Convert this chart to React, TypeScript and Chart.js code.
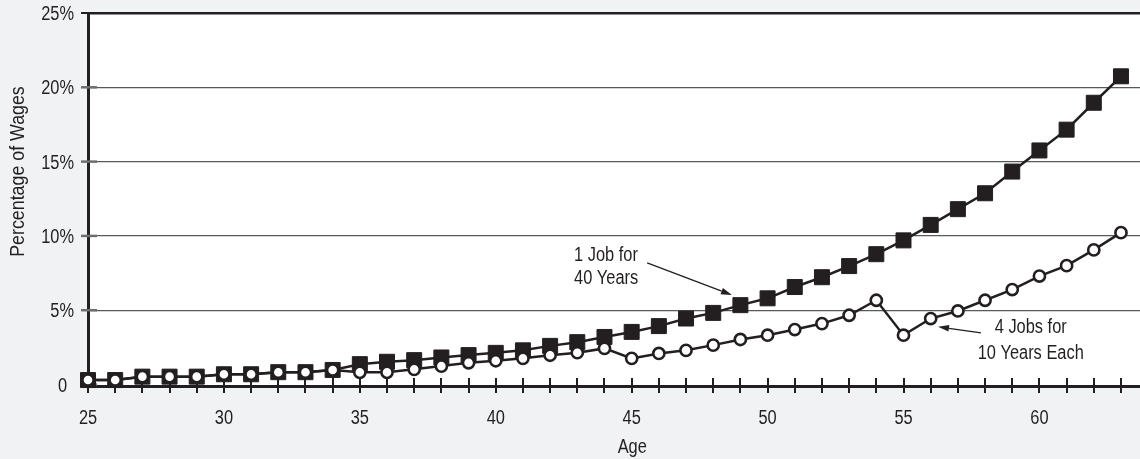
import React, { useEffect, useRef } from 'react';
import { Chart, registerables } from 'chart.js';

Chart.register(...registerables);

// ---- data ----
const ages = [25, 26, 27, 28, 29, 30, 31, 32, 33, 34, 35, 36, 37, 38, 39, 40, 41, 42, 43, 44, 45, 46, 47, 48, 49, 50, 51, 52, 53, 54, 55, 56, 57, 58, 59, 60, 61, 62, 63];
const oneJobFor40Years = [0.3, 0.3, 0.53, 0.53, 0.53, 0.69, 0.69, 0.83, 0.83, 0.98, 1.37, 1.53, 1.64, 1.82, 1.98, 2.13, 2.3, 2.6, 2.85, 3.2, 3.54, 3.93, 4.44, 4.82, 5.34, 5.8, 6.56, 7.22, 7.97, 8.77, 9.7, 10.74, 11.8, 12.87, 14.33, 15.75, 17.15, 18.96, 20.74];
const fourJobsFor10YearsEach = [0.3, 0.3, 0.53, 0.53, 0.53, 0.69, 0.69, 0.83, 0.83, 0.98, 0.82, 0.82, 1.02, 1.24, 1.46, 1.6, 1.76, 1.97, 2.14, 2.43, 1.76, 2.09, 2.3, 2.65, 3.03, 3.32, 3.7, 4.1, 4.66, 5.67, 3.32, 4.44, 4.95, 5.67, 6.39, 7.3, 8.0, 9.06, 10.22];
const yTicks = [0, 5, 10, 15, 20, 25];
const xLabelEvery = 5;
const xAxisTitle = 'Age';
const yAxisTitle = 'Percentage of Wages';

// annotation text (data coordinates of each line's baseline)
const noteLines = ['1 Job for', '40 Years', '4 Jobs for', '10 Years Each'];
const noteAt = [[42.88, 8.33], [42.88, 6.76], [59.68, 3.5], [59.68, 1.72]];
const noteAlign = ['left', 'left', 'center', 'center'];
const arrowFrom = [[45.57, 8.18], [57.85, 3.47]];
const arrowTo = [[48.69, 6.02], [56.27, 3.89]];

const FONT = "'Liberation Sans', Arial, sans-serif";
const SX = 0.82; // horizontal condensing of text
const INK = '#231f20';
const GRID = '#58595b';
const PAGE_BG = '#f1f2f4';

function drawText(ctx: CanvasRenderingContext2D, text: string, x: number, y: number, align: CanvasTextAlign, sx = SX) {
  ctx.save();
  ctx.translate(x, y);
  ctx.scale(sx, 1);
  ctx.textAlign = align;
  ctx.textBaseline = 'alphabetic';
  ctx.fillText(text, 0, 0);
  ctx.restore();
}

const decorPlugin = {
  id: 'decor',
  beforeDraw(chart: any) {
    const { ctx, chartArea: a, width, height } = chart;
    ctx.save();
    ctx.fillStyle = PAGE_BG;
    ctx.fillRect(0, 0, width, height);
    ctx.fillStyle = '#ffffff';
    ctx.fillRect(a.left, a.top, a.right - a.left, a.bottom - a.top);
    ctx.restore();
  },
  beforeDatasetsDraw(chart: any) {
    const { ctx, chartArea: a, scales } = chart;
    ctx.save();
    ctx.lineCap = 'butt';
    // x tick marks crossing the axis
    ctx.strokeStyle = INK;
    ctx.lineWidth = 2;
    for (const age of ages) {
      const px = Math.round(scales.x.getPixelForValue(age));
      ctx.beginPath();
      ctx.moveTo(px, a.bottom - 8);
      ctx.lineTo(px, a.bottom + 7);
      ctx.stroke();
    }
    // y tick marks
    for (const v of yTicks) {
      const py = scales.y.getPixelForValue(v);
      ctx.strokeStyle = v === 25 ? INK : '#6d6e70';
      ctx.lineWidth = v === 25 ? 2 : 2.5;
      ctx.beginPath();
      ctx.moveTo(a.left - 7, py);
      ctx.lineTo(v === 25 ? a.left : a.left + 9, py);
      ctx.stroke();
    }
    ctx.restore();
  },
  afterDraw(chart: any) {
    const { ctx, chartArea: a, scales } = chart;
    ctx.save();
    ctx.fillStyle = INK;
    ctx.font = `20px ${FONT}`;
    // tick labels
    for (const age of ages) {
      if (age % xLabelEvery !== 0) continue;
      drawText(ctx, String(age), scales.x.getPixelForValue(age), a.bottom + 37.5, 'center');
    }
    for (const v of yTicks) {
      drawText(ctx, v === 0 ? '0' : `${v}%`, a.left - (v === 0 ? 21 : 14), scales.y.getPixelForValue(v) + 7, 'right');
    }
    // axis titles
    drawText(ctx, xAxisTitle, (scales.x.getPixelForValue(45) + scales.x.getPixelForValue(46)) / 2 - 13, a.bottom + 67, 'center');
    ctx.save();
    ctx.translate(23.5, (a.top + a.bottom) / 2 - 28);
    ctx.rotate(-Math.PI / 2);
    drawText(ctx, yAxisTitle, 0, 0, 'center', 0.89);
    ctx.restore();
    // notes
    noteLines.forEach((t, i) => {
      drawText(ctx, t, scales.x.getPixelForValue(noteAt[i][0]), scales.y.getPixelForValue(noteAt[i][1]), noteAlign[i] as CanvasTextAlign);
    });
    // arrows
    ctx.strokeStyle = INK;
    ctx.lineWidth = 1.3;
    arrowFrom.forEach((f, i) => {
      const x1 = scales.x.getPixelForValue(f[0]);
      const y1 = scales.y.getPixelForValue(f[1]);
      const x2 = scales.x.getPixelForValue(arrowTo[i][0]);
      const y2 = scales.y.getPixelForValue(arrowTo[i][1]);
      const ang = Math.atan2(y2 - y1, x2 - x1);
      const hl = 11, hw = 3.3;
      const bx = x2 - hl * Math.cos(ang), by = y2 - hl * Math.sin(ang);
      ctx.beginPath();
      ctx.moveTo(x1, y1);
      ctx.lineTo(bx, by);
      ctx.stroke();
      ctx.beginPath();
      ctx.moveTo(x2, y2);
      ctx.lineTo(bx + hw * Math.sin(ang), by - hw * Math.cos(ang));
      ctx.lineTo(bx - hw * Math.sin(ang), by + hw * Math.cos(ang));
      ctx.closePath();
      ctx.fill();
    });
    ctx.restore();
  },
};

const noPad = (s: any) => {
  s.paddingTop = 0;
  s.paddingBottom = 0;
  s.paddingLeft = 0;
  s.paddingRight = 0;
};

export default function App() {
  const ref = useRef<HTMLCanvasElement>(null);
  useEffect(() => {
    document.body.style.margin = '0';
    const canvas = ref.current!;
    const chart = new Chart(canvas, {
      type: 'line',
      data: {
        datasets: [
          {
            label: '4 Jobs for 10 Years Each',
            data: ages.map((a, i) => ({ x: a, y: fourJobsFor10YearsEach[i] })),
            borderColor: INK,
            borderWidth: 2.5,
            pointStyle: 'circle',
            pointRadius: 5.6,
            pointBorderWidth: 2.6,
            pointBackgroundColor: '#ffffff',
            pointBorderColor: INK,
            tension: 0,
            clip: false,
          },
          {
            label: '1 Job for 40 Years',
            data: ages.map((a, i) => ({ x: a, y: oneJobFor40Years[i] })),
            borderColor: INK,
            borderWidth: 2.5,
            pointStyle: 'rect',
            pointRadius: 10.6,
            pointBorderWidth: 1,
            pointBackgroundColor: INK,
            pointBorderColor: INK,
            tension: 0,
            clip: false,
          },
        ],
      },
      options: {
        responsive: false,
        animation: false,
        layout: { autoPadding: false, padding: { top: 13, right: 0, bottom: 0, left: 0 } },
        plugins: { legend: { display: false }, tooltip: { enabled: false } },
        scales: {
          x: {
            type: 'linear',
            min: 25,
            max: 63.7,
            afterFit: (s: any) => { s.height = 73; noPad(s); },
            afterBuildTicks: (s: any) => { s.ticks = ages.map((v) => ({ value: v })); },
            ticks: { display: false },
            grid: { display: false, drawTicks: false },
            border: { display: true, color: INK, width: 3 },
          },
          y: {
            min: -0.1,
            max: 25,
            afterFit: (s: any) => { s.width = 88; noPad(s); },
            afterBuildTicks: (s: any) => { s.ticks = yTicks.map((v) => ({ value: v })); },
            ticks: { display: false },
            grid: {
              drawTicks: false,
              color: (c: any) => (c.tick && c.tick.value === 25 ? INK : c.tick && c.tick.value === 0 ? 'rgba(0,0,0,0)' : GRID),
              lineWidth: (c: any) => (c.tick && c.tick.value === 25 ? 2.5 : 1.2),
            },
            border: { display: true, color: INK, width: 3 },
          },
        },
      },
      plugins: [decorPlugin],
    });
    return () => chart.destroy();
  }, []);
  return (
    <div style={{ width: 1140, height: 459, background: PAGE_BG }}>
      <canvas ref={ref} width={1140} height={459} style={{ display: 'block' }} />
    </div>
  );
}
